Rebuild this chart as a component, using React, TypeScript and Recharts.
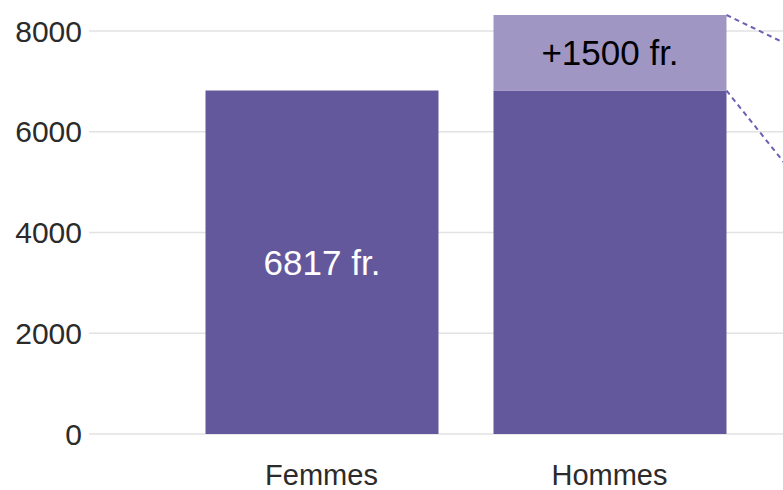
import { BarChart, Bar, XAxis, YAxis, CartesianGrid, LabelList } from "recharts";

// Salary comparison, values
const categories = ["Femmes", "Hommes"];
const baseValues = [6817, 6817];
const extraValues = [0, 1500];
const baseLabels = ["6817 fr.", ""];
const extraLabels = ["", "+1500 fr."];
const yTicks = [0, 2000, 4000, 6000, 8000];

const DARK = "#64589c";
const LIGHT = "#a096c4";
const FONT = "'Liberation Sans', Arial, sans-serif";

const data = categories.map((name, i) => ({
  name,
  base: baseValues[i],
  extra: extraValues[i],
  baseLabel: baseLabels[i],
  extraLabel: extraLabels[i],
}));

// Increment segment, with the dashed guides leaving its right-hand corners
const ExtraShape = (props: any) => {
  const { x, y, width, height, fill } = props;
  if (!height || height <= 0) return null;
  const right = x + width;
  return (
    <g>
      <rect x={x} y={y} width={width} height={height} fill={fill} />
      <line
        x1={right}
        y1={y}
        x2={right + 300}
        y2={y + 145}
        stroke="#6a60b4"
        strokeWidth={2}
        strokeDasharray="5 4"
      />
      <line
        x1={right}
        y1={y + height}
        x2={right + 240}
        y2={y + height + 300}
        stroke="#6a60b4"
        strokeWidth={2}
        strokeDasharray="5 4"
      />
    </g>
  );
};

export default function App() {
  return (
    <div
      style={{
        position: "absolute",
        left: 0,
        top: 0,
        width: 783,
        height: 490,
        overflow: "hidden",
        background: "#fff",
      }}
    >
      {/* shifted up so the plot's top edge falls outside the crop */}
      <div style={{ position: "absolute", left: 0, top: -30 }}>
        <BarChart
          width={783}
          height={520}
          data={data}
          margin={{ top: 10.6, right: 0, bottom: 0, left: 0 }}
          style={{ fontFamily: FONT }}
        >
          <CartesianGrid vertical={false} stroke="#e2e2e2" strokeWidth={1.5} />
          <XAxis
            dataKey="name"
            height={56}
            axisLine={false}
            tickLine={false}
            tickSize={0}
            tickMargin={30}
            padding={{ left: 88.5, right: 29.5 }}
            tick={{ fill: "#2b2b2b", fontSize: 29, fontFamily: FONT }}
          />
          <YAxis
            width={89}
            domain={[0, 9000]}
            ticks={yTicks}
            axisLine={false}
            tickLine={false}
            tickSize={0}
            tickMargin={7}
            tick={{ fill: "#2b2b2b", fontSize: 30, fontFamily: FONT }}
          />
          <Bar dataKey="base" stackId="s" fill={DARK} barSize={233} isAnimationActive={false}>
            <LabelList
              dataKey="baseLabel"
              position="center"
              fill="#ffffff"
              fontSize={35}
              fontFamily={FONT}
            />
          </Bar>
          <Bar
            dataKey="extra"
            stackId="s"
            fill={LIGHT}
            barSize={233}
            shape={ExtraShape}
            isAnimationActive={false}
          >
            <LabelList
              dataKey="extraLabel"
              position="center"
              fill="#000000"
              fontSize={35}
              fontFamily={FONT}
            />
          </Bar>
        </BarChart>
      </div>
    </div>
  );
}
